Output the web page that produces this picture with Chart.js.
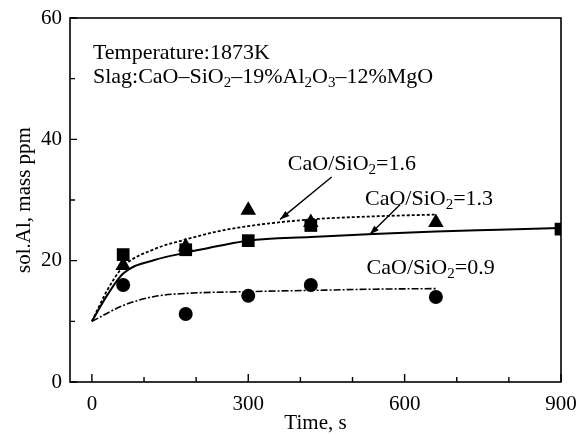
<!DOCTYPE html>
<html>
<head>
<meta charset="utf-8">
<script src="https://cdn.jsdelivr.net/npm/chart.js@4.4.1/dist/chart.umd.min.js"></script>
<style>
  html, body { margin: 0; padding: 0; background: #fff; }
  #wrap { width: 587px; height: 436px; }
</style>
</head>
<body>
<div id="wrap"><canvas id="chart"></canvas></div>
<script>
// measured points
const timeTri = [60, 180, 300, 420, 660];
const valTri  = [19.2, 22.3, 28.3, 26.3, 26.3];     // CaO/SiO2 = 1.6
const timeSq  = [60, 180, 300, 420, 900];
const valSq   = [21, 21.8, 23.3, 25.8, 25.2];       // CaO/SiO2 = 1.3
const timeCir = [60, 180, 300, 420, 660];
const valCir  = [16, 11.2, 14.2, 16, 14];           // CaO/SiO2 = 0.9

// fitted curves
const fitTime16 = [0, 30, 60, 120, 180, 240, 300, 420, 540, 660];
const fitVal16  = [10, 15.2, 19, 21.9, 23.5, 24.8, 25.7, 26.8, 27.3, 27.6];
const fitTime13 = [0, 30, 60, 120, 180, 300, 420, 540, 660, 780, 900];
const fitVal13  = [10, 14.4, 17.9, 20.1, 21.3, 23.3, 23.9, 24.4, 24.8, 25.1, 25.4];
const fitTime09 = [0, 60, 120, 180, 300, 420, 540, 660];
const fitVal09  = [10, 12.6, 14.1, 14.6, 14.9, 15.1, 15.3, 15.4];

const xTickVals = [0, 100, 200, 300, 400, 500, 600, 700, 800, 900];
const xLabelVals = [0, 300, 600, 900];
const yTickVals = [0, 10, 20, 30, 40, 50, 60];
const yLabelVals = [0, 20, 40, 60];

const serif = '"Liberation Serif", "DejaVu Serif", serif';

function pts(xs, ys) { return xs.map((x, i) => ({ x: x, y: ys[i] })); }

// text pieces: [text, isSubscript]
const notes = [
  { x: 2, y: 53.3, parts: [['Temperature:1873K', 0]] },
  { x: 2, y: 49.3, parts: [['Slag:CaO\u2013SiO', 0], ['2', 1], ['\u201319%Al', 0], ['2', 1], ['O', 0], ['3', 1], ['\u201312%MgO', 0]] },
  { x: 376, y: 34.9, parts: [['CaO/SiO', 0], ['2', 1], ['=1.6', 0]] },
  { x: 524, y: 29.2, parts: [['CaO/SiO', 0], ['2', 1], ['=1.3', 0]] },
  { x: 527, y: 17.8, parts: [['CaO/SiO', 0], ['2', 1], ['=0.9', 0]] }
];
const arrows = [
  { from: [460, 33.8], to: [361, 26.8] },
  { from: [591, 29.2], to: [533, 24.3] }
];

const framePlugin = {
  id: 'frame',
  afterDraw(chart) {
    const ctx = chart.ctx, a = chart.chartArea;
    const xs = chart.scales.x, ys = chart.scales.y;
    ctx.save();
    ctx.strokeStyle = '#000';
    ctx.lineWidth = 1.6;
    ctx.strokeRect(a.left, a.top, a.right - a.left, a.bottom - a.top);
    ctx.lineWidth = 1.4;
    ctx.beginPath();
    xTickVals.forEach(v => {
      const px = xs.getPixelForValue(v);
      const len = xLabelVals.includes(v) ? 8 : 5;
      ctx.moveTo(px, a.bottom); ctx.lineTo(px, a.bottom - len);
    });
    yTickVals.forEach(v => {
      const py = ys.getPixelForValue(v);
      const len = yLabelVals.includes(v) ? 7 : 5;
      ctx.moveTo(a.left, py); ctx.lineTo(a.left + len, py);
    });
    ctx.stroke();

    // arrows
    arrows.forEach(ar => {
      const x1 = xs.getPixelForValue(ar.from[0]), y1 = ys.getPixelForValue(ar.from[1]);
      const x2 = xs.getPixelForValue(ar.to[0]), y2 = ys.getPixelForValue(ar.to[1]);
      ctx.lineWidth = 1.4;
      ctx.beginPath(); ctx.moveTo(x1, y1); ctx.lineTo(x2, y2); ctx.stroke();
      const ang = Math.atan2(y2 - y1, x2 - x1);
      ctx.beginPath();
      ctx.moveTo(x2, y2);
      ctx.lineTo(x2 - 10 * Math.cos(ang - 0.33), y2 - 10 * Math.sin(ang - 0.33));
      ctx.lineTo(x2 - 10 * Math.cos(ang + 0.33), y2 - 10 * Math.sin(ang + 0.33));
      ctx.closePath();
      ctx.fillStyle = '#000';
      ctx.fill();
    });

    // annotations with subscripts
    ctx.fillStyle = '#000';
    ctx.textBaseline = 'alphabetic';
    ctx.textAlign = 'left';
    notes.forEach(n => {
      let px = xs.getPixelForValue(n.x);
      const py = ys.getPixelForValue(n.y);
      n.parts.forEach(p => {
        ctx.font = p[1] ? '15px ' + serif : '22px ' + serif;
        ctx.fillText(p[0], px, py + (p[1] ? 4 : 0));
        px += ctx.measureText(p[0]).width;
      });
    });
    ctx.restore();
  }
};

new Chart(document.getElementById('chart'), {
  type: 'scatter',
  data: {
    datasets: [
      { data: pts(fitTime16, fitVal16), showLine: true, pointRadius: 0, borderColor: '#000',
        borderWidth: 1.8, borderDash: [3, 2], cubicInterpolationMode: 'monotone' },
      { data: pts(fitTime13, fitVal13), showLine: true, pointRadius: 0, borderColor: '#000',
        borderWidth: 2, cubicInterpolationMode: 'monotone' },
      { data: pts(fitTime09, fitVal09), showLine: true, pointRadius: 0, borderColor: '#000',
        borderWidth: 1.6, borderDash: [7, 2, 2, 2], cubicInterpolationMode: 'monotone' },
      { data: pts(timeTri, valTri), pointStyle: 'triangle', pointRadius: 9,
        backgroundColor: '#000', borderColor: '#000', borderWidth: 0 },
      { data: pts(timeSq, valSq), pointStyle: 'rect', pointRadius: 9,
        backgroundColor: '#000', borderColor: '#000', borderWidth: 0 },
      { data: pts(timeCir, valCir), pointStyle: 'circle', pointRadius: 7,
        backgroundColor: '#000', borderColor: '#000', borderWidth: 0 }
    ]
  },
  options: {
    responsive: true,
    maintainAspectRatio: false,
    animation: false,
    layout: { padding: { top: 18, right: 26, left: 0, bottom: 0 } },
    plugins: { legend: { display: false }, tooltip: { enabled: false } },
    scales: {
      x: {
        type: 'linear', min: -42, max: 900,
        grid: { display: false }, border: { display: false },
        afterBuildTicks: s => { s.ticks = xTickVals.map(v => ({ value: v })); },
        afterFit: s => { s.height = 54; },
        ticks: {
          color: '#000', padding: 2, maxRotation: 0, autoSkip: false,
          font: { family: serif, size: 21 },
          callback: v => xLabelVals.includes(v) ? String(v) : ''
        },
        title: { display: true, text: 'Time, s', color: '#000',
          font: { family: serif, size: 21 }, padding: { top: 0, bottom: 0 } }
      },
      y: {
        type: 'linear', min: 0, max: 60,
        grid: { display: false }, border: { display: false },
        afterBuildTicks: s => { s.ticks = yTickVals.map(v => ({ value: v })); },
        afterFit: s => { s.width = 70; },
        ticks: {
          color: '#000', padding: 0, autoSkip: false,
          font: { family: serif, size: 21 },
          callback: v => yLabelVals.includes(v) ? String(v) : ''
        },
        title: { display: true, text: 'sol.Al, mass ppm', color: '#000',
          font: { family: serif, size: 21 }, padding: { top: 12, bottom: 0 } }
      }
    }
  },
  plugins: [framePlugin]
});
</script>
</body>
</html>
